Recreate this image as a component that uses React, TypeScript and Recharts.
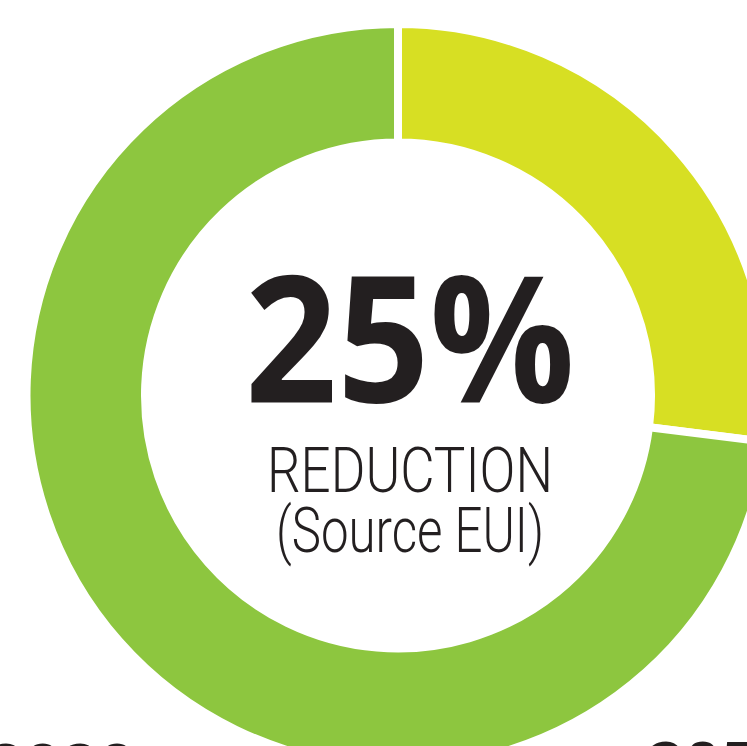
import { PieChart, Pie, Cell, Label } from "recharts";

// ring share (yellow part sweeps about 97 degrees)
const segmentNames = ["Reduction", "Remaining"];
const segmentValues = [27, 73];
const segmentColors = ["#d7df23", "#8dc63f"];

const headline = "25%";
const subtitleLines = ["REDUCTION", "(Source EUI)"];
const yearLabels = ["2020", "2050"];

const data = segmentNames.map((name, i) => ({ name, value: segmentValues[i] }));

const ink = "#231f20";
const thinFont = "Roboto, 'Liberation Sans', sans-serif";

function CenterText(props: any) {
  const vb = props.viewBox || {};
  const cx = vb.cx ?? 398;
  const cy = vb.cy ?? 395;
  const x = cx + 12;
  return (
    <g>
      <text x={x} y={cy + 7} textAnchor="middle" fill={ink} fontFamily="'Open Sans', 'Noto Sans', sans-serif" fontWeight={700} fontSize={176} textLength={330} lengthAdjust="spacingAndGlyphs">
        {headline}
      </text>
      <text x={x} y={cy + 97} textAnchor="middle" fill={ink} fontFamily={thinFont} fontWeight={300} fontSize={63} textLength={286} lengthAdjust="spacingAndGlyphs">
        {subtitleLines[0]}
      </text>
      <text x={x} y={cy + 157} textAnchor="middle" fill={ink} fontFamily={thinFont} fontWeight={300} fontSize={63} textLength={268} lengthAdjust="spacingAndGlyphs">
        {subtitleLines[1]}
      </text>
      <text x={-13} y={790} fill={ink} fontFamily="'Open Sans', sans-serif" fontWeight={700} fontSize={65}>
        {yearLabels[0]}
      </text>
      <text x={647} y={788} fill={ink} fontFamily="'Open Sans', sans-serif" fontWeight={700} fontSize={65}>
        {yearLabels[1]}
      </text>
    </g>
  );
}

export default function App() {
  return (
    <div style={{ position: "fixed", left: 0, top: 0, width: 747, height: 746, background: "#fff" }}>
      <PieChart width={747} height={746} margin={{ top: 0, right: 0, bottom: 0, left: 0 }}>
        <Pie
          data={data}
          dataKey="value"
          nameKey="name"
          cx={398}
          cy={395.5}
          innerRadius={253}
          outerRadius={371.5}
          startAngle={90}
          endAngle={-270}
          stroke="#ffffff"
          strokeWidth={8}
          isAnimationActive={false}
        >
          {data.map((_, i) => <Cell key={i} fill={segmentColors[i]} />)}
          <Label content={CenterText} position="center" />
        </Pie>
      </PieChart>
    </div>
  );
}
